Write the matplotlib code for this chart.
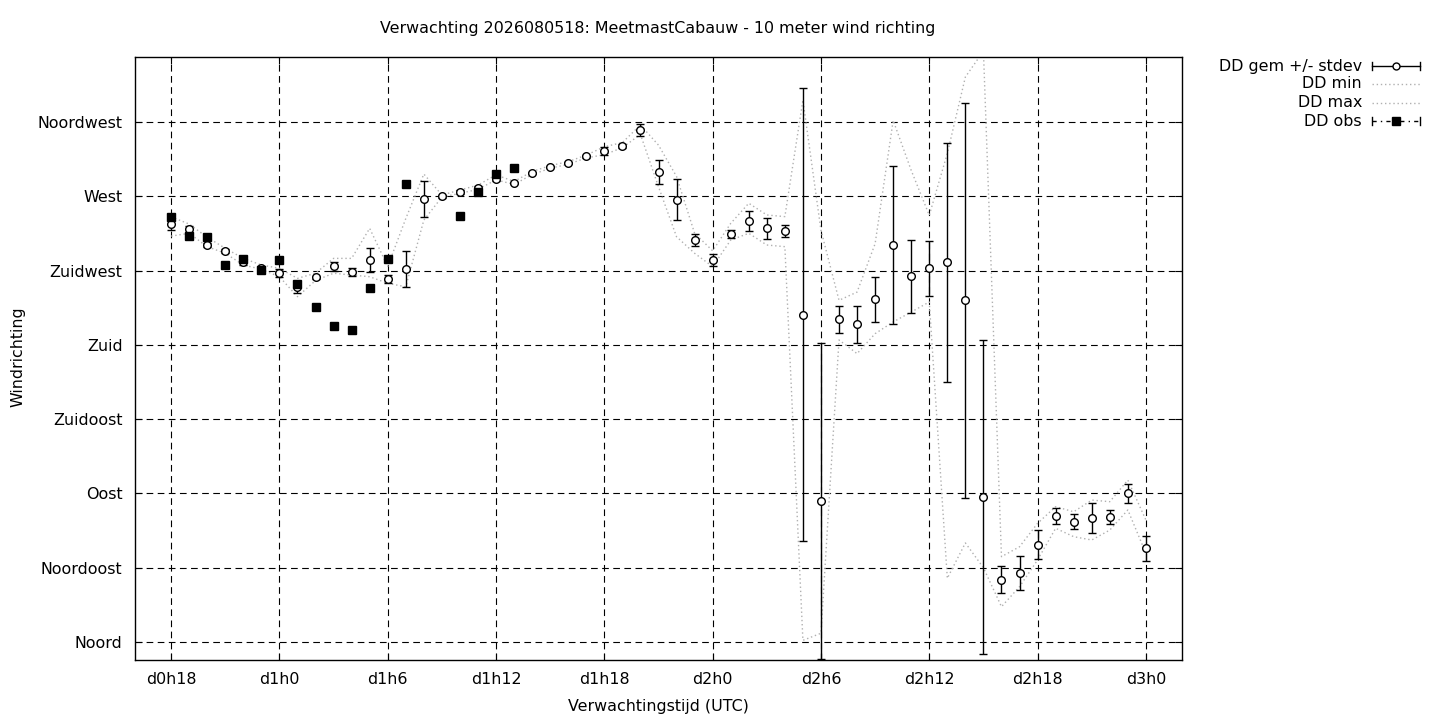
import numpy as np
import matplotlib
matplotlib.use("Agg")
import matplotlib.pyplot as plt
from matplotlib.lines import Line2D

plt.rcParams['font.family'] = ['DejaVu Sans']
plt.rcParams['font.size'] = 11.4

# forecast hours (d0h18 .. d3h0)
hours = list(range(18, 73))

dd_mean = [253.2, 250.2, 240.5, 236.9, 230.0, 226.8, 223.4, 214.9, 220.9, 227.6,
           224.0, 231.4, 219.9, 226.0, 268.2, 270.0, 272.6, 275.0, 280.3, 278.1,
           284.1, 287.8, 290.2, 294.2, 297.4, 300.5, 310.2, 284.7, 267.8, 243.5,
           231.4, 247.2, 255.0, 250.6, 249.0, 198.4, 85.4, 195.6, 192.6, 207.7,
           240.5, 221.6, 226.5, 230.0, 206.9, 87.8, 37.8, 42.0, 59.0, 76.2,
           72.9, 75.3, 75.6, 90.2, 56.8]

dd_sd = [3.6, 1.8, 1.2, 1.0, 1.5, 1.0, 2.5, 3.5, 1.0, 2.7,
         2.5, 7.3, 2.7, 10.9, 10.9, 0.8, 1.0, 1.5, 1.0, 0.8,
         0.8, 0.8, 0.8, 1.0, 2.5, 1.0, 3.5, 7.5, 12.4, 3.4,
         3.5, 2.3, 5.9, 6.5, 3.5, 137.3, 95.7, 8.2, 11.2, 13.7,
         47.9, 22.1, 16.7, 72.2, 119.5, 95.1, 8.4, 10.2, 8.6, 4.8,
         4.4, 9.0, 4.3, 5.7, 7.7]

dd_min = [245.9, 247.6, 239.5, 235.5, 228.4, 225.8, 221.3, 209.2, 219.0, 223.4,
          222.3, 221.3, 217.3, 215.2, 255.6, 269.5, 271.8, 274.2, 280.0, 277.2,
          283.2, 287.0, 289.4, 293.3, 295.2, 299.5, 307.5, 275.8, 245.5, 235.5,
          227.4, 243.5, 247.6, 240.5, 239.5, 1.0, 5.3, 183.0, 174.7, 186.8,
          193.9, 199.9, 206.0, 38.6, 60.0, 45.0, 21.4, 33.5, 49.7, 68.9,
          63.8, 61.8, 67.8, 80.0, 53.7]

dd_max = [257.6, 253.2, 245.2, 238.5, 232.4, 228.4, 226.4, 220.3, 223.4, 232.4,
          232.4, 250.6, 227.5, 256.5, 283.5, 270.8, 273.8, 276.8, 283.0, 279.0,
          285.0, 288.6, 291.0, 295.0, 300.0, 302.6, 313.2, 301.0, 282.0, 247.6,
          237.0, 253.6, 265.8, 258.7, 257.7, 328.3, 249.4, 207.0, 212.0, 241.3,
          316.0, 285.7, 258.5, 296.0, 342.3, 358.0, 51.7, 57.7, 71.9, 82.0,
          78.9, 86.0, 85.0, 98.1, 73.9]

obs_hours = [18, 19, 20, 21, 22, 23, 24, 25, 26, 27, 28, 29, 30, 31, 34, 35, 36, 37]
obs_dd = [257.3, 246.1, 245.2, 228.2, 231.8, 225.4, 231.4, 216.7, 202.9, 191.4,
          188.8, 214.5, 232.0, 277.5, 257.9, 272.4, 283.4, 287.0]

xtick_pos = [18, 24, 30, 36, 42, 48, 54, 60, 66, 72]
xtick_labels = ['d0h18', 'd1h0', 'd1h6', 'd1h12', 'd1h18', 'd2h0', 'd2h6', 'd2h12', 'd2h18', 'd3h0']
ytick_pos = [0, 45, 90, 135, 180, 225, 270, 315]
ytick_labels = ['Noord', 'Noordoost', 'Oost', 'Zuidoost', 'Zuid', 'Zuidwest', 'West', 'Noordwest']

W, H = 1440, 720
fig = plt.figure(figsize=(W / 100, H / 100), dpi=100)
ax = fig.add_axes([135 / W, 60 / H, (1182 - 135) / W, (660 - 57) / H])

grey = '#b0b0b0'
ax.plot(hours, dd_min, ls=(0, (1, 2)), color=grey, lw=1.0)
ax.plot(hours, dd_max, ls=(0, (1, 2)), color=grey, lw=1.0)

ax.errorbar(hours, dd_mean, yerr=dd_sd, fmt='o', mfc='white', mec='black', mew=1.0,
            ms=5.5, ecolor='black', elinewidth=1.0, capsize=3, capthick=1.0, zorder=3)
ax.errorbar(obs_hours, obs_dd, yerr=0, fmt='s', color='black', ms=5.8,
            ecolor='black', elinewidth=1.0, capsize=3, capthick=1.0, zorder=4)

ax.set_xlim(16, 74)
ax.set_ylim(-10.9, 354.4)
ax.set_xticks(xtick_pos)
ax.set_xticklabels(xtick_labels)
ax.set_yticks(ytick_pos)
ax.set_yticklabels(ytick_labels)
ax.tick_params(direction='in', top=True, right=True, length=5, width=0.8, pad=9)
ax.grid(True, color='black', ls=(0, (6, 4)), lw=0.8)
for s in ax.spines.values():
    s.set_linewidth(1.0)

fig.text(658 / W, 1 - 29 / H, 'Verwachting 2026080518: MeetmastCabauw - 10 meter wind richting',
         ha='center', va='center')
fig.text(658 / W, 1 - 706 / H, 'Verwachtingstijd (UTC)', ha='center', va='center')
fig.text(18 / W, 1 - 357 / H, 'Windrichting', ha='center', va='center', rotation=90)


# legend drawn gnuplot style, outside the plot
def px(x, y):
    return x / W, 1 - y / H


names = ['DD gem +/- stdev', 'DD min', 'DD max', 'DD obs']
rows = [66, 84, 102.5, 121]
x0, x1, xm = 1372, 1420, 1396
for name, y in zip(names, rows):
    fig.text(*px(1362, y), name, ha='right', va='center')

for i, y in enumerate(rows):
    (fx0, fy), (fx1, _) = px(x0, y), px(x1, y)
    if i == 0 or i == 3:
        ls = '-' if i == 0 else (0, (3, 3, 1, 3))
        fig.add_artist(Line2D([fx0, fx1], [fy, fy], color='black', lw=1.0, ls=ls,
                              transform=fig.transFigure))
        for xc in (x0, x1):
            cx, cy0 = px(xc, y - 4)
            _, cy1 = px(xc, y + 4)
            fig.add_artist(Line2D([cx, cx], [cy0, cy1], color='black', lw=1.0,
                                  transform=fig.transFigure))
        mx, my = px(xm, y)
        if i == 0:
            fig.add_artist(Line2D([mx], [my], marker='o', ms=5, mfc='white', mec='black',
                                  transform=fig.transFigure))
        else:
            fig.add_artist(Line2D([mx], [my], marker='s', ms=5.5, color='black',
                                  transform=fig.transFigure))
    else:
        fig.add_artist(Line2D([fx0, fx1], [fy, fy], color=grey, lw=1.0, ls=(0, (1, 2)),
                              transform=fig.transFigure))

fig.savefig('out.png', dpi=100)
